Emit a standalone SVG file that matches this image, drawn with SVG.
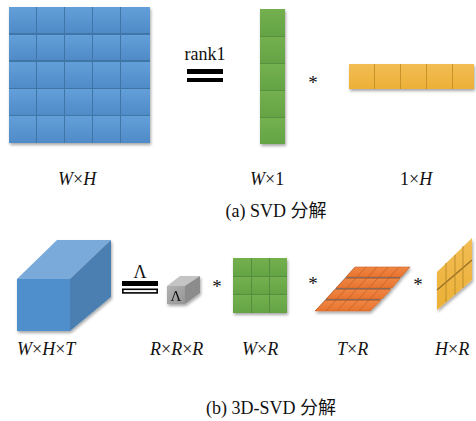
<svg xmlns="http://www.w3.org/2000/svg" width="476" height="421" viewBox="0 0 476 421">
  <defs>
    <filter id="shadow" x="-20%" y="-20%" width="140%" height="140%">
      <feDropShadow dx="1" dy="2" stdDeviation="1.4" flood-color="#000" flood-opacity="0.35"/>
    </filter>
    <linearGradient id="gBlue" x1="0" y1="0" x2="0" y2="1">
      <stop offset="0" stop-color="#639fd9"/>
      <stop offset="1" stop-color="#4f8bc7"/>
    </linearGradient>
    <linearGradient id="gGreen" x1="0" y1="0" x2="0" y2="1">
      <stop offset="0" stop-color="#74b04f"/>
      <stop offset="1" stop-color="#64a344"/>
    </linearGradient>
    <linearGradient id="gYellow" x1="0" y1="0" x2="0" y2="1">
      <stop offset="0" stop-color="#f3bd55"/>
      <stop offset="1" stop-color="#ebb035"/>
    </linearGradient>
    <linearGradient id="gOrange" x1="0" y1="0" x2="0" y2="1">
      <stop offset="0" stop-color="#f08542"/>
      <stop offset="1" stop-color="#e87430"/>
    </linearGradient>
    <linearGradient id="gGray" x1="0" y1="0" x2="1" y2="1">
      <stop offset="0" stop-color="#b3b3b3"/>
      <stop offset="1" stop-color="#959595"/>
    </linearGradient>
  </defs>
  <style>
    .t { font-family: "Liberation Serif", "Times New Roman", Times, "Nimbus Roman", "Noto Serif", "DejaVu Serif", FreeSerif, "Noto Sans CJK SC", serif; fill: #111; }
    .lbl { font-size: 18px; }
    .cap { font-size: 18px; text-anchor: middle; }
    .it { font-style: italic; }
    .op { font-size: 19px; text-anchor: middle; }
    .cb { fill: url(#gBlue); }
    .cg { fill: url(#gGreen); }
    .cy { fill: url(#gYellow); }
    .co { fill: url(#gOrange); stroke: #c9652a; stroke-width: 0.6; }
    .bar { fill: #000; }
  </style>

  <!-- W x H matrix: 5 x 5 blue grid -->
  <g id="matrix-wh" filter="url(#shadow)">
    <rect x="9" y="7" width="141" height="136" fill="#4174a8"/>
    <g class="cb">
      <rect x="9" y="7" width="27" height="26"/><rect x="37" y="7" width="27" height="26"/><rect x="65" y="7" width="27" height="26"/><rect x="93" y="7" width="27" height="26"/><rect x="121" y="7" width="29" height="26"/>
      <rect x="9" y="35" width="27" height="25"/><rect x="37" y="35" width="27" height="25"/><rect x="65" y="35" width="27" height="25"/><rect x="93" y="35" width="27" height="25"/><rect x="121" y="35" width="29" height="25"/>
      <rect x="9" y="62" width="27" height="26"/><rect x="37" y="62" width="27" height="26"/><rect x="65" y="62" width="27" height="26"/><rect x="93" y="62" width="27" height="26"/><rect x="121" y="62" width="29" height="26"/>
      <rect x="9" y="89" width="27" height="26"/><rect x="37" y="89" width="27" height="26"/><rect x="65" y="89" width="27" height="26"/><rect x="93" y="89" width="27" height="26"/><rect x="121" y="89" width="29" height="26"/>
      <rect x="9" y="116" width="27" height="27"/><rect x="37" y="116" width="27" height="27"/><rect x="65" y="116" width="27" height="27"/><rect x="93" y="116" width="27" height="27"/><rect x="121" y="116" width="29" height="27"/>
    </g>
  </g>

  <!-- rank-1 equality sign -->
  <g id="rank1-eq">
    <text class="t cap" x="205" y="60">rank1</text>
    <rect class="bar" x="187" y="69" width="36" height="5"/>
    <rect class="bar" x="187" y="78" width="36" height="4"/>
  </g>

  <!-- W x 1 column vector -->
  <g id="vector-w1" filter="url(#shadow)">
    <rect x="260" y="9" width="25" height="135" fill="#5a9140"/>
    <g class="cg">
      <rect x="260" y="9" width="25" height="27"/>
      <rect x="260" y="37" width="25" height="26"/>
      <rect x="260" y="64" width="25" height="26"/>
      <rect x="260" y="91" width="25" height="26"/>
      <rect x="260" y="118" width="25" height="26"/>
    </g>
  </g>

  <text id="op-a" class="t op" x="313" y="89">*</text>

  <!-- 1 x H row vector -->
  <g id="vector-1h" filter="url(#shadow)">
    <rect x="349" y="64" width="125" height="25" fill="#c8922c"/>
    <g class="cy">
      <rect x="349" y="64" width="25" height="25"/>
      <rect x="375" y="64" width="25" height="25"/>
      <rect x="401" y="64" width="25" height="25"/>
      <rect x="427" y="64" width="25" height="25"/>
      <rect x="453" y="64" width="21" height="25"/>
    </g>
  </g>

  <!-- dimension labels, part (a) -->
  <g id="labels-a" class="t lbl">
    <text x="58" y="185"><tspan class="it">W</tspan>×<tspan class="it">H</tspan></text>
    <text x="250" y="185"><tspan class="it">W</tspan>×1</text>
    <text x="400" y="185">1×<tspan class="it">H</tspan></text>
  </g>
  <text id="caption-a" class="t cap" x="276" y="217">(a) SVD 分解</text>

  <!-- W x H x T tensor -->
  <g id="tensor-wht" filter="url(#shadow)">
    <polygon points="17,279 57,240 111,240 70,279" fill="#7aaad9"/>
    <polygon points="70,279 111,240 111,297 70,331" fill="#4b7fb2"/>
    <rect x="17" y="279" width="53" height="52" fill="#4f8fcc"/>
  </g>

  <!-- Lambda equality sign -->
  <g id="lambda-eq">
    <text class="t cap" x="140" y="278">Λ</text>
    <rect class="bar" x="122" y="281" width="36" height="5"/>
    <rect x="122.8" y="289.3" width="34.4" height="3.6" fill="none" stroke="#000" stroke-width="1.6"/>
  </g>

  <!-- R x R x R core tensor -->
  <g id="core-rrr" filter="url(#shadow)">
    <polygon points="167,286 180,276 200,276 185,286" fill="#c4c4c4"/>
    <polygon points="185,286 200,276 200,293 185,304" fill="#8c8c8c"/>
    <rect x="167" y="286" width="18" height="18" fill="url(#gGray)"/>
    <text class="t" x="176" y="301" font-size="15" text-anchor="middle">Λ</text>
  </g>

  <text id="op-b1" class="t op" x="217" y="293">*</text>

  <!-- W x R factor: 3 x 3 grid -->
  <g id="factor-wr" filter="url(#shadow)">
    <rect x="233" y="258" width="54" height="55" fill="#568c3d"/>
    <g class="cg">
      <rect x="233" y="258" width="18" height="18"/><rect x="252" y="258" width="17" height="18"/><rect x="270" y="258" width="17" height="18"/>
      <rect x="233" y="277" width="18" height="17"/><rect x="252" y="277" width="17" height="17"/><rect x="270" y="277" width="17" height="17"/>
      <rect x="233" y="295" width="18" height="18"/><rect x="252" y="295" width="17" height="18"/><rect x="270" y="295" width="17" height="18"/>
    </g>
  </g>

  <text id="op-b2" class="t op" x="313" y="290">*</text>

  <!-- T x R factor: sheared 4 x 5 grid -->
  <g id="factor-tr" filter="url(#shadow)">
    <polygon points="315,311 355,267 410,267 370,311" fill="#6e6e6e"/>
    <g class="co">
      <polygon points="355,267 410,267 401,277 346,277"/>
      <polygon points="345,278.5 400,278.5 392,288 336,288"/>
      <polygon points="335,289.5 391,289.5 382,299 326,299"/>
      <polygon points="325,300.5 381,300.5 370,311 315,311"/>
    </g>
    <g stroke="#b85a24" stroke-width="0.8" opacity="0.8">
      <line x1="366" y1="267" x2="326" y2="311"/>
      <line x1="377" y1="267" x2="337" y2="311"/>
      <line x1="388" y1="267" x2="348" y2="311"/>
      <line x1="399" y1="267" x2="359" y2="311"/>
    </g>
  </g>

  <text id="op-b3" class="t op" x="418" y="291">*</text>

  <!-- H x R factor: sheared 2 x 4 grid -->
  <g id="factor-hr" filter="url(#shadow)">
    <polygon points="437,272 472,238 472,280 437,310" fill="url(#gYellow)"/>
    <line x1="437" y1="290" x2="472" y2="260" stroke="#9a7426" stroke-width="1.6"/>
    <g stroke="#b98b2b" stroke-width="0.9">
      <line x1="446" y1="263" x2="446" y2="302"/>
      <line x1="455" y1="255" x2="455" y2="295"/>
      <line x1="463" y1="246" x2="463" y2="288"/>
    </g>
  </g>

  <!-- dimension labels, part (b) -->
  <g id="labels-b" class="t lbl">
    <text x="17" y="355"><tspan class="it">W</tspan>×<tspan class="it">H</tspan>×<tspan class="it">T</tspan></text>
    <text x="150" y="355"><tspan class="it">R</tspan>×<tspan class="it">R</tspan>×<tspan class="it">R</tspan></text>
    <text x="242" y="355"><tspan class="it">W</tspan>×<tspan class="it">R</tspan></text>
    <text x="337" y="355"><tspan class="it">T</tspan>×<tspan class="it">R</tspan></text>
    <text x="435" y="355"><tspan class="it">H</tspan>×<tspan class="it">R</tspan></text>
  </g>
  <text id="caption-b" class="t cap" x="271" y="414">(b) 3D-SVD 分解</text>
</svg>
